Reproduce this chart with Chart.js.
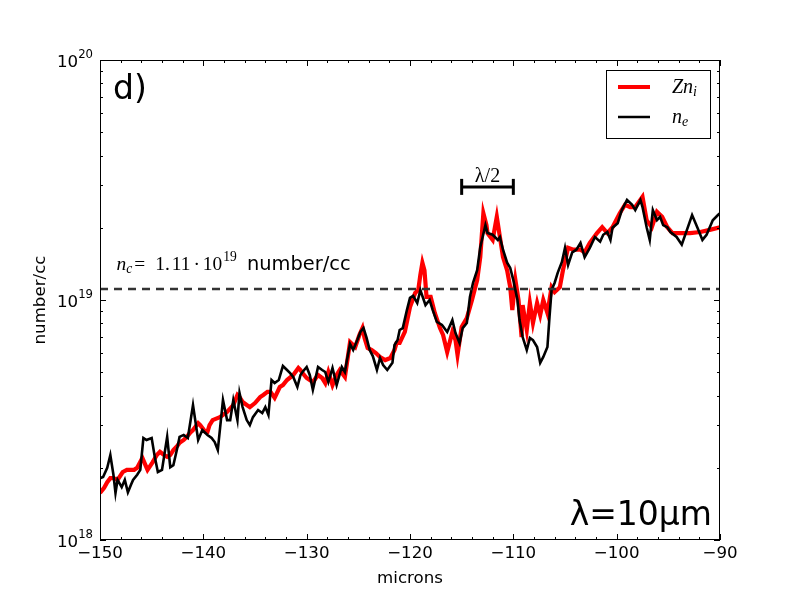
<!DOCTYPE html>
<html>
<head>
<meta charset="utf-8">
<script src="https://cdn.jsdelivr.net/npm/chart.js@4.4.0/dist/chart.umd.min.js"></script>
<style>
  html, body { margin: 0; padding: 0; background: #fff; }
  canvas { display: block; }
</style>
</head>
<body>
<canvas id="chart" width="800" height="600"></canvas>
<script>
// Density profiles across the target, panel d) (lambda = 10 um).
// Positions in microns, densities in number/cc.

const nePos = [-150.0,-149.7,-149.3,-149.0,-148.7,-148.5,-148.3,-147.9,-147.6,-147.3,
  -147.0,-146.8,-146.4,-146.1,-145.8,-145.5,-145.0,-144.7,-144.4,-144.0,
  -143.5,-143.2,-142.9,-142.5,-142.3,-141.9,-141.5,-141.0,-140.5,-140.1,
  -139.8,-139.6,-139.2,-138.9,-138.6,-138.1,-137.7,-137.4,-137.1,-136.7,
  -136.5,-136.2,-135.8,-135.5,-135.2,-134.7,-134.3,-134.0,-133.7,-133.4,
  -133.1,-132.7,-132.3,-131.9,-131.6,-131.3,-130.9,-130.6,-130.4,-130.0,
  -129.7,-129.4,-128.9,-128.5,-128.2,-127.9,-127.5,-127.1,-126.6,-126.3,
  -126.1,-125.8,-125.5,-125.1,-124.8,-124.5,-124.2,-123.9,-123.6,-123.2,
  -122.9,-122.6,-122.2,-121.7,-121.5,-121.2,-121.0,-120.7,-120.3,-120.0,
  -119.7,-119.3,-119.0,-118.5,-118.1,-117.8,-117.4,-116.9,-116.4,-115.9,
  -115.6,-115.2,-114.9,-114.5,-114.2,-113.9,-113.5,-113.2,-112.7,-112.5,
  -112.0,-111.5,-111.3,-111.0,-110.6,-110.3,-110.0,-109.6,-109.4,-109.1,
  -108.7,-108.4,-108.1,-107.7,-107.4,-107.1,-106.7,-106.5,-106.3,-106.0,
  -105.7,-105.3,-105.0,-104.7,-104.3,-103.9,-103.5,-103.1,-102.6,-102.1,
  -101.6,-101.3,-100.9,-100.6,-100.4,-99.9,-99.5,-99.0,-98.5,-98.2,
  -97.7,-97.5,-97.1,-96.8,-96.5,-96.1,-95.8,-95.5,-95.1,-94.8,
  -94.2,-93.7,-93.2,-92.7,-92.2,-91.7,-91.3,-90.7,-90.2,-90.0];

const neVal = [1.81e18,1.83e18,2.00e18,2.26e18,1.87e18,1.57e18,1.78e18,1.66e18,1.78e18,1.58e18,
  1.70e18,1.78e18,1.87e18,1.96e18,2.66e18,2.61e18,2.66e18,2.22e18,1.92e18,1.96e18,
  2.69e18,2.01e18,2.05e18,2.44e18,2.69e18,2.74e18,2.66e18,3.65e18,2.61e18,2.87e18,
  2.79e18,2.74e18,2.66e18,2.56e18,2.37e18,3.83e18,3.16e18,3.16e18,3.83e18,3.16e18,
  4.10e18,3.58e18,3.16e18,3.01e18,3.25e18,3.48e18,3.38e18,3.58e18,3.32e18,4.64e18,
  4.51e18,4.64e18,5.31e18,5.11e18,4.96e18,4.78e18,4.34e18,4.87e18,5.01e18,5.26e18,
  4.87e18,4.22e18,5.26e18,5.11e18,5.01e18,4.55e18,5.21e18,4.42e18,5.26e18,5.01e18,
  5.62e18,6.56e18,6.19e18,6.81e18,7.36e18,7.64e18,6.95e18,6.19e18,5.84e18,5.11e18,
  5.73e18,5.36e18,5.11e18,5.47e18,6.49e18,6.81e18,7.50e18,7.64e18,9.08e18,1.02e19,
  1.04e19,9.72e18,1.10e19,9.53e18,1.00e19,9.08e18,8.10e18,7.87e18,7.36e18,8.25e18,
  7.29e18,6.62e18,7.64e18,8.02e18,1.03e19,1.18e19,1.33e19,1.66e19,2.05e19,1.90e19,
  1.87e19,1.78e19,1.83e19,1.62e19,1.43e19,1.36e19,1.21e19,1.00e19,8.25e18,7.01e18,
  6.19e18,6.95e18,6.81e18,6.37e18,5.47e18,5.79e18,6.37e18,8.50e18,1.10e19,1.18e19,
  1.30e19,1.44e19,1.65e19,1.40e19,1.58e19,1.62e19,1.73e19,1.51e19,1.65e19,1.83e19,
  1.75e19,1.87e19,1.92e19,1.78e19,2.00e19,2.09e19,2.37e19,2.61e19,2.49e19,2.37e19,
  2.61e19,2.44e19,2.01e19,1.78e19,2.37e19,2.15e19,2.22e19,2.05e19,2.01e19,1.92e19,
  1.83e19,1.70e19,1.96e19,2.26e19,2.01e19,1.78e19,1.87e19,2.15e19,2.26e19,2.30e19];

const zniPos = [-150.0,-149.6,-149.3,-149.0,-148.7,-148.3,-147.8,-147.4,-147.1,-146.7,
  -146.4,-145.9,-145.6,-145.4,-144.9,-144.5,-144.2,-143.8,-143.5,-143.2,
  -142.9,-142.5,-142.3,-141.9,-141.6,-141.3,-141.0,-140.5,-140.3,-139.8,
  -139.6,-139.4,-139.1,-138.4,-137.7,-137.1,-136.7,-136.5,-136.2,-135.8,
  -135.5,-135.0,-134.5,-134.2,-133.8,-133.5,-133.1,-132.6,-132.3,-131.9,
  -131.3,-130.8,-130.6,-130.4,-130.0,-129.4,-128.9,-128.5,-128.2,-127.9,
  -127.5,-127.1,-126.8,-126.3,-125.8,-125.3,-124.9,-124.6,-124.4,-124.1,
  -123.7,-123.3,-122.9,-122.4,-121.9,-121.5,-121.3,-121.0,-120.5,-120.0,
  -119.5,-119.2,-119.0,-118.8,-118.6,-118.4,-118.0,-117.6,-117.1,-116.8,
  -116.4,-115.9,-115.6,-115.4,-115.0,-114.5,-114.0,-113.5,-113.2,-112.9,
  -112.6,-112.5,-112.0,-111.6,-111.3,-111.0,-110.6,-110.3,-110.1,-109.8,
  -109.5,-109.2,-109.1,-108.7,-108.4,-108.1,-107.7,-107.4,-107.1,-106.7,
  -106.3,-106.0,-105.5,-105.2,-104.7,-104.2,-103.5,-103.1,-102.6,-101.9,
  -101.4,-100.9,-100.4,-99.7,-99.2,-98.7,-98.2,-97.5,-97.1,-96.6,
  -96.1,-95.6,-95.1,-94.6,-93.8,-92.9,-91.9,-91.0,-90.0];

const zniVal = [1.57e18,1.65e18,1.74e18,1.81e18,1.81e18,1.78e18,1.92e18,1.96e18,1.96e18,1.96e18,
  2.00e18,2.20e18,2.05e18,1.96e18,2.11e18,2.26e18,2.33e18,2.26e18,2.22e18,2.26e18,
  2.37e18,2.47e18,2.54e18,2.61e18,2.69e18,2.79e18,2.87e18,3.07e18,3.01e18,2.82e18,
  2.82e18,3.01e18,3.16e18,3.25e18,3.42e18,3.65e18,4.02e18,3.94e18,3.76e18,3.65e18,
  3.58e18,3.72e18,3.94e18,4.02e18,4.14e18,4.14e18,3.91e18,4.34e18,4.42e18,4.64e18,
  4.87e18,5.21e18,5.11e18,4.96e18,4.73e18,4.55e18,4.87e18,4.73e18,4.51e18,5.01e18,
  4.42e18,4.87e18,5.11e18,4.78e18,6.68e18,6.37e18,7.15e18,7.64e18,6.95e18,6.31e18,
  6.19e18,6.01e18,5.79e18,5.62e18,5.73e18,6.19e18,6.62e18,6.62e18,7.36e18,9.35e18,
  1.07e19,1.10e19,1.27e19,1.43e19,1.33e19,1.03e19,1.03e19,8.83e18,7.64e18,7.15e18,
  6.07e18,7.36e18,6.81e18,5.90e18,7.72e18,8.41e18,1.00e19,1.21e19,1.51e19,2.30e19,
  2.05e19,1.90e19,1.78e19,2.22e19,1.83e19,1.51e19,1.33e19,1.13e19,9.08e18,1.21e19,
  1.00e19,7.01e18,9.53e18,7.50e18,9.72e18,8.02e18,9.72e18,8.66e18,1.00e19,8.83e18,
  1.13e19,1.08e19,1.13e19,1.33e19,1.65e19,1.62e19,1.62e19,1.58e19,1.73e19,1.90e19,
  2.01e19,1.90e19,2.01e19,2.30e19,2.49e19,2.44e19,2.44e19,2.69e19,2.15e19,2.01e19,
  2.33e19,2.22e19,2.01e19,1.90e19,1.90e19,1.90e19,1.92e19,1.96e19,2.01e19];

// critical density line and the lambda/2 marker
const ncValue = 1.11e19;
const ncSpan = [-150, -90];
const halfLambdaEnds = [-115, -110];
const halfLambdaLevel = 2.96e19;
const ncLabelAt = [-148.4, 1.33e19];

// ticks
const xMajorTicks = [-150, -140, -130, -120, -110, -100, -90];
const xMinorTicks = [-148, -146, -144, -142, -138, -136, -134, -132, -128, -126, -124, -122,
  -118, -116, -114, -112, -108, -106, -104, -102, -98, -96, -94, -92];
const yMajorTicks = [1e18, 1e19, 1e20];
const yMinorTicks = [2e18, 3e18, 4e18, 5e18, 6e18, 7e18, 8e18, 9e18,
  2e19, 3e19, 4e19, 5e19, 6e19, 7e19, 8e19, 9e19];

const SANS = "'DejaVu Sans', sans-serif";
const SERIF = "'Liberation Serif', 'DejaVu Serif', serif";
const FS = 16.67;

const pairs = (xs, ys) => xs.map((x, i) => ({ x, y: ys[i] }));

// draw a run of text pieces left to right: [text, font, dy, gapAfter]
function drawRun(ctx, pieces, x, y) {
  let cx = x;
  for (const [t, font, dy, gap] of pieces) {
    ctx.font = font;
    ctx.fillText(t, cx, y + (dy || 0));
    cx += ctx.measureText(t).width + (gap || 0);
  }
}

const framePlugin = {
  id: 'frame',
  afterDraw(chart) {
    const { ctx, chartArea: a, scales: { x, y } } = chart;
    ctx.save();
    ctx.strokeStyle = '#000';
    ctx.lineWidth = 1;
    ctx.strokeRect(a.left + 0.5, a.top + 0.5, a.right - a.left - 1, a.bottom - a.top - 1);

    // inward ticks on all four sides
    ctx.beginPath();
    const xt = (vals, len) => vals.forEach(v => {
      const px = Math.round(x.getPixelForValue(v)) + 0.5;
      ctx.moveTo(px, a.bottom); ctx.lineTo(px, a.bottom - len);
      ctx.moveTo(px, a.top); ctx.lineTo(px, a.top + len);
    });
    const yt = (vals, len) => vals.forEach(v => {
      const py = Math.round(y.getPixelForValue(v)) + 0.5;
      ctx.moveTo(a.left, py); ctx.lineTo(a.left + len, py);
      ctx.moveTo(a.right, py); ctx.lineTo(a.right - len, py);
    });
    xt(xMajorTicks, 6); xt(xMinorTicks, 3);
    yt(yMajorTicks, 6); yt(yMinorTicks, 3);
    ctx.stroke();

    // y tick labels 10^n
    ctx.fillStyle = '#000';
    ctx.textBaseline = 'alphabetic';
    yMajorTicks.forEach(v => {
      const py = y.getPixelForValue(v);
      const exp = String(Math.round(Math.log10(v)));
      ctx.font = `11.7px ${SANS}`;
      const ws = ctx.measureText(exp).width;
      ctx.textAlign = 'left';
      ctx.fillText(exp, a.left - 7 - ws, py - 2);
      ctx.font = `${FS}px ${SANS}`;
      ctx.textAlign = 'right';
      ctx.fillText('10', a.left - 7 - ws, py + 7);
    });

    // panel letter and wavelength
    ctx.font = `33px ${SANS}`;
    ctx.textAlign = 'left';
    ctx.fillText('d)', a.left + 13, a.top + 39);
    ctx.textAlign = 'right';
    ctx.fillText('\u03bb=10\u03bcm', a.right - 8, a.bottom - 15);

    // critical density label
    ctx.textAlign = 'left';
    const lx = x.getPixelForValue(ncLabelAt[0]);
    const ly = y.getPixelForValue(ncLabelAt[1]);
    drawRun(ctx, [
      ['n', `italic 19.4px ${SERIF}`, 0, 0],
      ['c', `italic 13.6px ${SERIF}`, 3, 2],
      ['=', `19.4px ${SERIF}`, 0, 10],
      ['1.', `19.4px ${SERIF}`, 0, 2],
      ['11', `19.4px ${SERIF}`, 0, 3],
      ['\u00b7', `19.4px ${SERIF}`, 0, 3],
      ['10', `19.4px ${SERIF}`, 0, 1],
      ['19', `13.6px ${SERIF}`, -9, 4],
      [' number/cc', `19.4px ${SANS}`, 0, 0]
    ], lx, ly);

    // lambda/2 label
    ctx.textAlign = 'center';
    ctx.font = `20px ${SERIF}`;
    const hx = x.getPixelForValue((halfLambdaEnds[0] + halfLambdaEnds[1]) / 2);
    const hy = y.getPixelForValue(halfLambdaLevel);
    ctx.fillText('\u03bb/2', hx, hy - 5);

    // legend
    const bx = a.right - 114, by = a.top + 10, bw = 104, bh = 68;
    ctx.fillStyle = '#fff';
    ctx.fillRect(bx, by, bw, bh);
    ctx.strokeStyle = '#000';
    ctx.lineWidth = 1;
    ctx.strokeRect(bx + 0.5, by + 0.5, bw, bh);
    const rows = [
      { color: '#ff0000', width: 4, dy: 17, label: [['Z', `italic 20px ${SERIF}`, 0, 0], ['n', `italic 20px ${SERIF}`, 0, 0], ['i', `italic 14px ${SERIF}`, 3, 0]] },
      { color: '#000000', width: 2.5, dy: 47, label: [['n', `italic 20px ${SERIF}`, 0, 0], ['e', `italic 14px ${SERIF}`, 3, 0]] }
    ];
    rows.forEach(r => {
      ctx.strokeStyle = r.color;
      ctx.lineWidth = r.width;
      ctx.beginPath();
      ctx.moveTo(bx + 12, by + r.dy);
      ctx.lineTo(bx + 44, by + r.dy);
      ctx.stroke();
      ctx.fillStyle = '#000';
      ctx.textAlign = 'left';
      drawRun(ctx, r.label, bx + 66, by + r.dy + 6);
    });
    ctx.restore();
  }
};

new Chart(document.getElementById('chart'), {
  type: 'line',
  data: {
    datasets: [
      {
        label: 'n_e', data: pairs(nePos, neVal),
        borderColor: '#000000', borderWidth: 2.6, order: 1
      },
      {
        label: 'Zn_i', data: pairs(zniPos, zniVal),
        borderColor: '#ff0000', borderWidth: 4.2, order: 2
      },
      {
        label: 'n_c', data: ncSpan.map(x => ({ x, y: ncValue })),
        borderColor: '#333333', borderWidth: 2.5, borderDash: [8, 6], order: 0
      },
      {
        label: 'lambda/2', data: halfLambdaEnds.map(x => ({ x, y: halfLambdaLevel })),
        borderColor: '#000000', borderWidth: 3, order: 0,
        pointStyle: 'line', pointRotation: 90, pointRadius: 8,
        pointBorderWidth: 3, pointBorderColor: '#000000'
      }
    ]
  },
  options: {
    responsive: false,
    animation: false,
    devicePixelRatio: 1,
    elements: {
      point: { radius: 0 },
      line: { tension: 0, borderCapStyle: 'butt', borderJoinStyle: 'miter' }
    },
    layout: { padding: { top: 60, right: 80, left: 0, bottom: 0 } },
    scales: {
      x: {
        type: 'linear', min: -150, max: -90,
        grid: { display: false, drawTicks: false }, border: { display: false },
        ticks: {
          stepSize: 10, autoSkip: false, maxRotation: 0, padding: 4,
          color: '#000', font: { family: SANS, size: FS },
          callback: v => (v < 0 ? '\u2212' : '') + Math.abs(v)
        },
        title: {
          display: true, text: 'microns', color: '#000',
          font: { family: SANS, size: FS }, padding: { top: 0, bottom: 11 }
        },
        afterFit: s => { s.height = 60; }
      },
      y: {
        type: 'logarithmic', min: 1e18, max: 1e20,
        grid: { display: false }, border: { display: false },
        ticks: { display: false },
        title: {
          display: true, text: 'number/cc', color: '#000',
          font: { family: SANS, size: FS }, padding: { top: 31, bottom: 0 }
        },
        afterFit: s => { s.width = 100; }
      }
    },
    plugins: { legend: { display: false }, tooltip: { enabled: false } }
  },
  plugins: [framePlugin]
});
</script>
</body>
</html>
